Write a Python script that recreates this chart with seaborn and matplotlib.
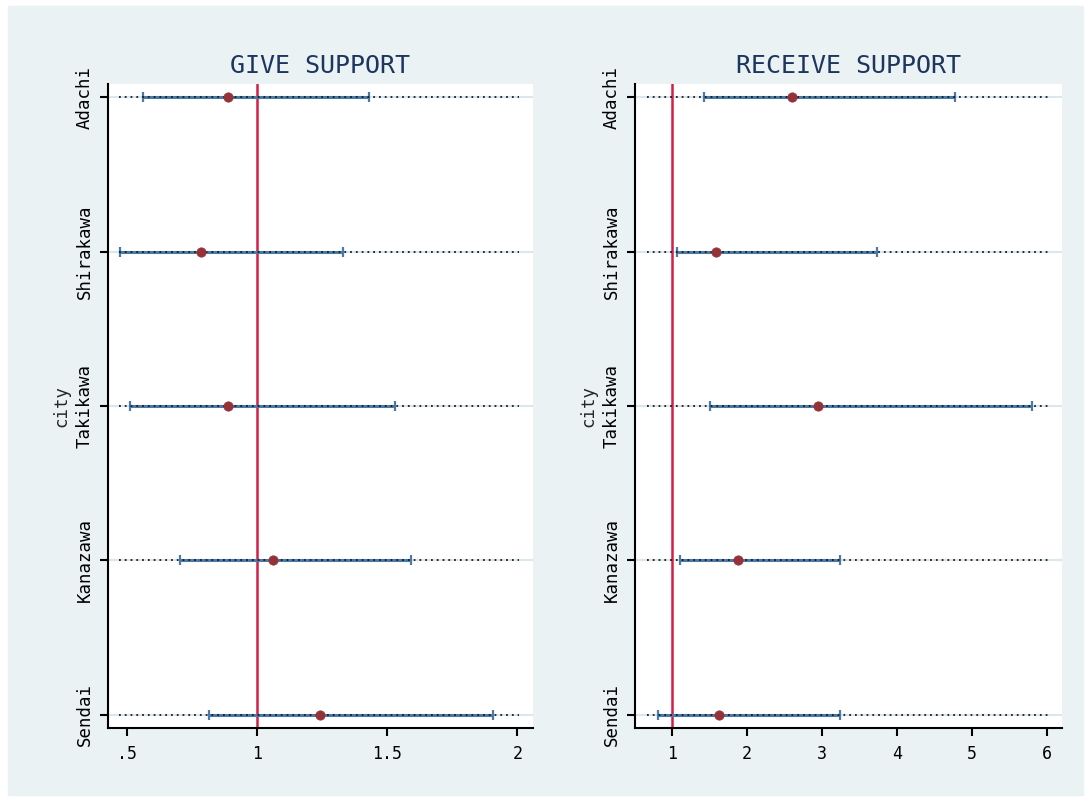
import pandas as pd
import seaborn as sns
import matplotlib.pyplot as plt
from matplotlib.patches import Rectangle

# data (odds ratio with 95% CI per city)
cities = ['Adachi', 'Shirakawa', 'Takikawa', 'Kanazawa', 'Sendai']

give_est = [0.89, 0.785, 0.89, 1.06, 1.24]
give_lo = [0.56, 0.473, 0.512, 0.705, 0.815]
give_hi = [1.43, 1.33, 1.53, 1.59, 1.905]

recv_est = [2.60, 1.59, 2.94, 1.88, 1.62]
recv_lo = [1.43, 1.07, 1.50, 1.11, 0.81]
recv_hi = [4.77, 3.73, 5.80, 3.24, 3.24]

give_ticks = [0.5, 1, 1.5, 2]
give_ticklabels = ['.5', '1', '1.5', '2']
recv_ticks = [1, 2, 3, 4, 5, 6]
recv_ticklabels = ['1', '2', '3', '4', '5', '6']

sns.set_style('white')
plt.rcParams['font.family'] = ['DejaVu Sans Mono', 'DejaVu Sans']

fig = plt.figure(figsize=(10.91, 8.01), dpi=100, facecolor='white')
fig.patches.append(Rectangle((8 / 1091, 6 / 801), 1075 / 1091, 789 / 801,
                             transform=fig.transFigure, color='#eaf2f3', zorder=-10))

bottom = 1 - 728 / 801
height = (728 - 84) / 801
ax1 = fig.add_axes([108 / 1091, bottom, 425 / 1091, height])
ax2 = fig.add_axes([635 / 1091, bottom, 427 / 1091, height])


def panel(ax, title, est, lo, hi, ticks, ticklabels, xlim):
    df = pd.DataFrame({'city': cities, 'pos': range(len(cities)),
                       'est': est, 'lo': lo, 'hi': hi})
    ax.set_facecolor('white')
    for p in df['pos']:
        ax.axhline(p, color='#dbe7ee', lw=1.5, zorder=1)
        ax.axhline(p, xmin=0.027, xmax=0.967, color='#1a1a1a', lw=1.3,
                   ls=(0, (1, 2.2)), zorder=4)
    ax.errorbar(df['est'], df['pos'],
                xerr=[df['est'] - df['lo'], df['hi'] - df['est']],
                fmt='none', ecolor='#4a7aa8', elinewidth=2.2, capsize=3.5,
                capthick=1.6, zorder=3)
    ax.axvline(1, color='#d41f45', lw=1.8, zorder=2)
    sns.scatterplot(data=df, x='est', y='pos', ax=ax, color='#953238',
                    s=45, edgecolor='#953238', zorder=5, legend=False)
    ax.set_xlim(*xlim)
    ax.set_ylim(4.085, -0.085)
    ax.set_xticks(ticks)
    ax.set_xticklabels(ticklabels, fontsize=12)
    ax.set_yticks(range(len(cities)))
    ax.set_yticklabels(cities, rotation=90, va='center', fontsize=12.5)
    ax.set_xlabel('')
    ax.set_ylabel('city', fontsize=12.5, labelpad=4)
    ax.set_title(title, fontsize=18, color='#1e3560', pad=8)
    for s in ['top', 'right']:
        ax.spines[s].set_visible(False)
    for s in ['left', 'bottom']:
        ax.spines[s].set_color('black')
        ax.spines[s].set_linewidth(1.5)
    ax.tick_params(axis='both', direction='out', length=6, width=1.5,
                   color='black', labelcolor='black', left=True, bottom=True)
    ax.tick_params(axis='y', pad=4)
    ax.tick_params(axis='x', pad=6)


panel(ax1, 'GIVE SUPPORT', give_est, give_lo, give_hi,
      give_ticks, give_ticklabels, (0.427, 2.06))
panel(ax2, 'RECEIVE SUPPORT', recv_est, recv_lo, recv_hi,
      recv_ticks, recv_ticklabels, (0.505, 6.2))

fig.savefig('out.png', dpi=100, facecolor=fig.get_facecolor())
